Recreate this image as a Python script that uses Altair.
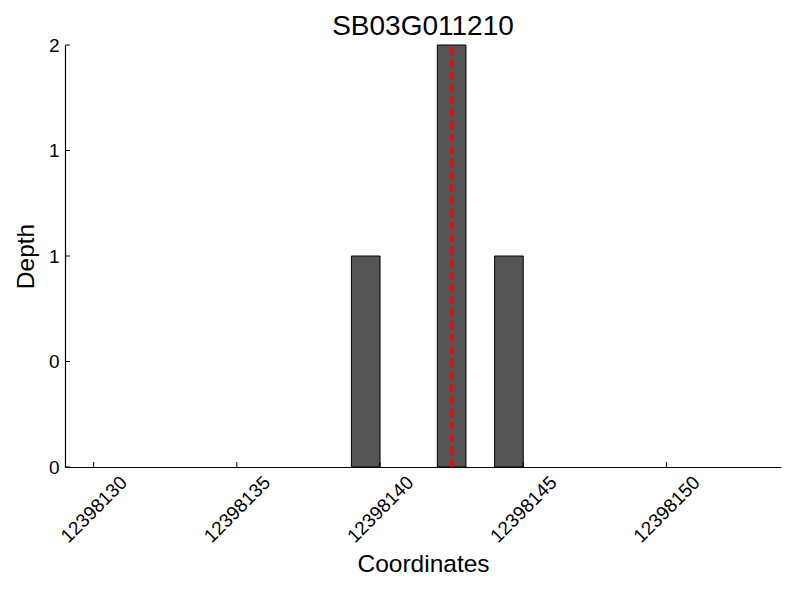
import altair as alt
import pandas as pd

starts = [12398139, 12398142, 12398144]
ends = [12398140, 12398143, 12398145]
depths = [1, 2, 1]
marker_pos = [12398142.5]
x_ticks = [12398130, 12398135, 12398140, 12398145, 12398150]
y_ticks = [0, 0.5, 1, 1.5, 2]
title = "SB03G011210"

W, H = 716, 422
FONT = "Liberation Sans"

bars_df = pd.DataFrame({"start": starts, "end": ends, "depth": depths, "base": [0] * len(starts)})
marker_df = pd.DataFrame({"pos": marker_pos, "lo": [0], "hi": [2]})
xt_df = pd.DataFrame({"t": x_ticks})
yt_df = pd.DataFrame({"t": y_ticks})

xscale = alt.Scale(domain=[12398129, 12398154], nice=False, zero=False)
yscale = alt.Scale(domain=[0, 2], nice=False)

bars = alt.Chart(bars_df).mark_rect(fill="#545454", stroke="black", strokeWidth=1).encode(
    x=alt.X("start:Q", scale=xscale,
            axis=alt.Axis(values=x_ticks, format="d", labelAngle=-45, labelAlign="center",
                          labelBaseline="middle", labelPadding=42, title="Coordinates",
                          titlePadding=7)),
    x2="end:Q",
    y=alt.Y("base:Q", scale=yscale,
            axis=alt.Axis(values=y_ticks, labelExpr="toString(floor(datum.value))",
                          labelPadding=6, title="Depth", titlePadding=10)),
    y2="depth:Q",
)

marker = alt.Chart(marker_df).mark_rule(color="red", strokeWidth=2.5, strokeDash=[8, 4.5]).encode(
    x=alt.X("pos:Q", scale=xscale), y=alt.Y("lo:Q", scale=yscale), y2="hi:Q"
)

xticks = alt.Chart(xt_df).mark_rule(color="black", strokeWidth=1).encode(
    x=alt.X("t:Q", scale=xscale), y=alt.value(H), y2=alt.value(H - 5)
)
yticks = alt.Chart(yt_df).mark_rule(color="black", strokeWidth=1).encode(
    y=alt.Y("t:Q", scale=yscale), x=alt.value(0), x2=alt.value(5)
)

chart = alt.layer(bars, marker, xticks, yticks).properties(
    width=W, height=H,
    title=alt.TitleParams(title, fontSize=28, font=FONT, fontWeight="normal", color="black",
                          anchor="middle", offset=-5),
    autosize=alt.AutoSizeParams(type="none"),
    padding={"left": 57, "top": 37, "right": 3, "bottom": 117},
    background="white",
).configure_view(stroke=None).configure_axis(
    ticks=False, grid=False, labelFont=FONT, labelFontSize=19, labelColor="black",
    titleFont=FONT, titleFontSize=24.5, titleFontWeight="normal", titleColor="black",
    domainColor="black", domainWidth=1.2,
)

chart.save("out.html", embed_options={"renderer": "svg", "actions": False})
